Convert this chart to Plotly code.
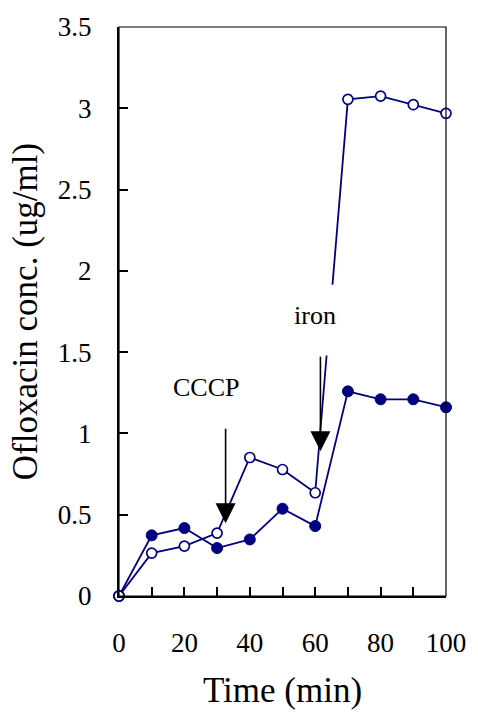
import plotly.graph_objects as go

time_min = [0, 10, 20, 30, 40, 50, 60, 70, 80, 90, 100]
conc_open = [0.0, 0.264, 0.307, 0.387, 0.852, 0.778, 0.635, 3.055, 3.075, 3.022, 2.969]
conc_filled = [0.0, 0.373, 0.418, 0.295, 0.348, 0.537, 0.430, 1.259, 1.210, 1.210, 1.161]
y_ticks = [0, 0.5, 1, 1.5, 2, 2.5, 3, 3.5]
x_ticks = [0, 20, 40, 60, 80, 100]

NAVY = "#000080"
FONT = "Liberation Serif, Times New Roman, serif"

fig = go.Figure()
fig.add_trace(go.Scatter(
    x=time_min, y=conc_filled, mode="lines+markers",
    line=dict(color=NAVY, width=1.8),
    marker=dict(symbol="circle", size=11, color=NAVY, line=dict(color=NAVY, width=1)),
    cliponaxis=False, showlegend=False))
fig.add_trace(go.Scatter(
    x=time_min, y=conc_open, mode="lines+markers",
    line=dict(color=NAVY, width=1.8),
    marker=dict(symbol="circle", size=10, color="white", line=dict(color=NAVY, width=1.7)),
    cliponaxis=False, showlegend=False))

# white text-box background behind "iron" (covers part of the line)
fig.add_shape(type="rect", xref="x", yref="y", x0=57, x1=67.5, y0=1.48, y1=1.915,
              fillcolor="white", line=dict(width=0), layer="above")
# plot frame
fig.add_shape(type="rect", xref="paper", yref="paper", x0=0, x1=1, y0=0, y1=1,
              line=dict(color="black", width=1.2), layer="above")

# arrows
for tip_x, tip_y in [(32.6, 0.447), (61.6, 0.89)]:
    fig.add_annotation(x=tip_x, y=tip_y, ax=0, ay=-96, xref="x", yref="y",
                       showarrow=True, arrowhead=2, arrowsize=2.5, arrowwidth=1.6,
                       arrowcolor="black", text="")

fig.add_annotation(x=26.9, y=1.284, text="CCCP", showarrow=False,
                   font=dict(family=FONT, size=26, color="black"))
fig.add_annotation(x=59.9, y=1.724, text="iron", showarrow=False,
                   font=dict(family=FONT, size=26, color="black"))

fig.update_layout(
    width=478, height=718,
    margin=dict(l=119, r=30, t=26, b=122),
    paper_bgcolor="white", plot_bgcolor="white",
    font=dict(family=FONT, color="black"),
    xaxis=dict(
        range=[0, 100], tickmode="array", tickvals=x_ticks,
        ticks="inside", ticklen=9, tickwidth=1.5, tickcolor="black",
        showline=True, linecolor="black", linewidth=2, showgrid=False, zeroline=False,
        tickfont=dict(family=FONT, size=27), ticklabelstandoff=22,
        minor=dict(dtick=10, tick0=0, ticks="inside", ticklen=9, tickwidth=1.5, tickcolor="black", showgrid=False),
        title=dict(text="Time (min)", font=dict(family=FONT, size=35), standoff=20),
    ),
    yaxis=dict(
        range=[0, 3.5], tickmode="array", tickvals=y_ticks,
        ticktext=[("%g" % v) for v in y_ticks],
        ticks="inside", ticklen=9, tickwidth=1.5, tickcolor="black",
        showline=True, linecolor="black", linewidth=2, showgrid=False, zeroline=False,
        tickfont=dict(family=FONT, size=27), ticklabelstandoff=20,
        title=dict(text="Ofloxacin conc. (ug/ml)", font=dict(family=FONT, size=35), standoff=10),
    ),
)

fig.write_html("out.html")
